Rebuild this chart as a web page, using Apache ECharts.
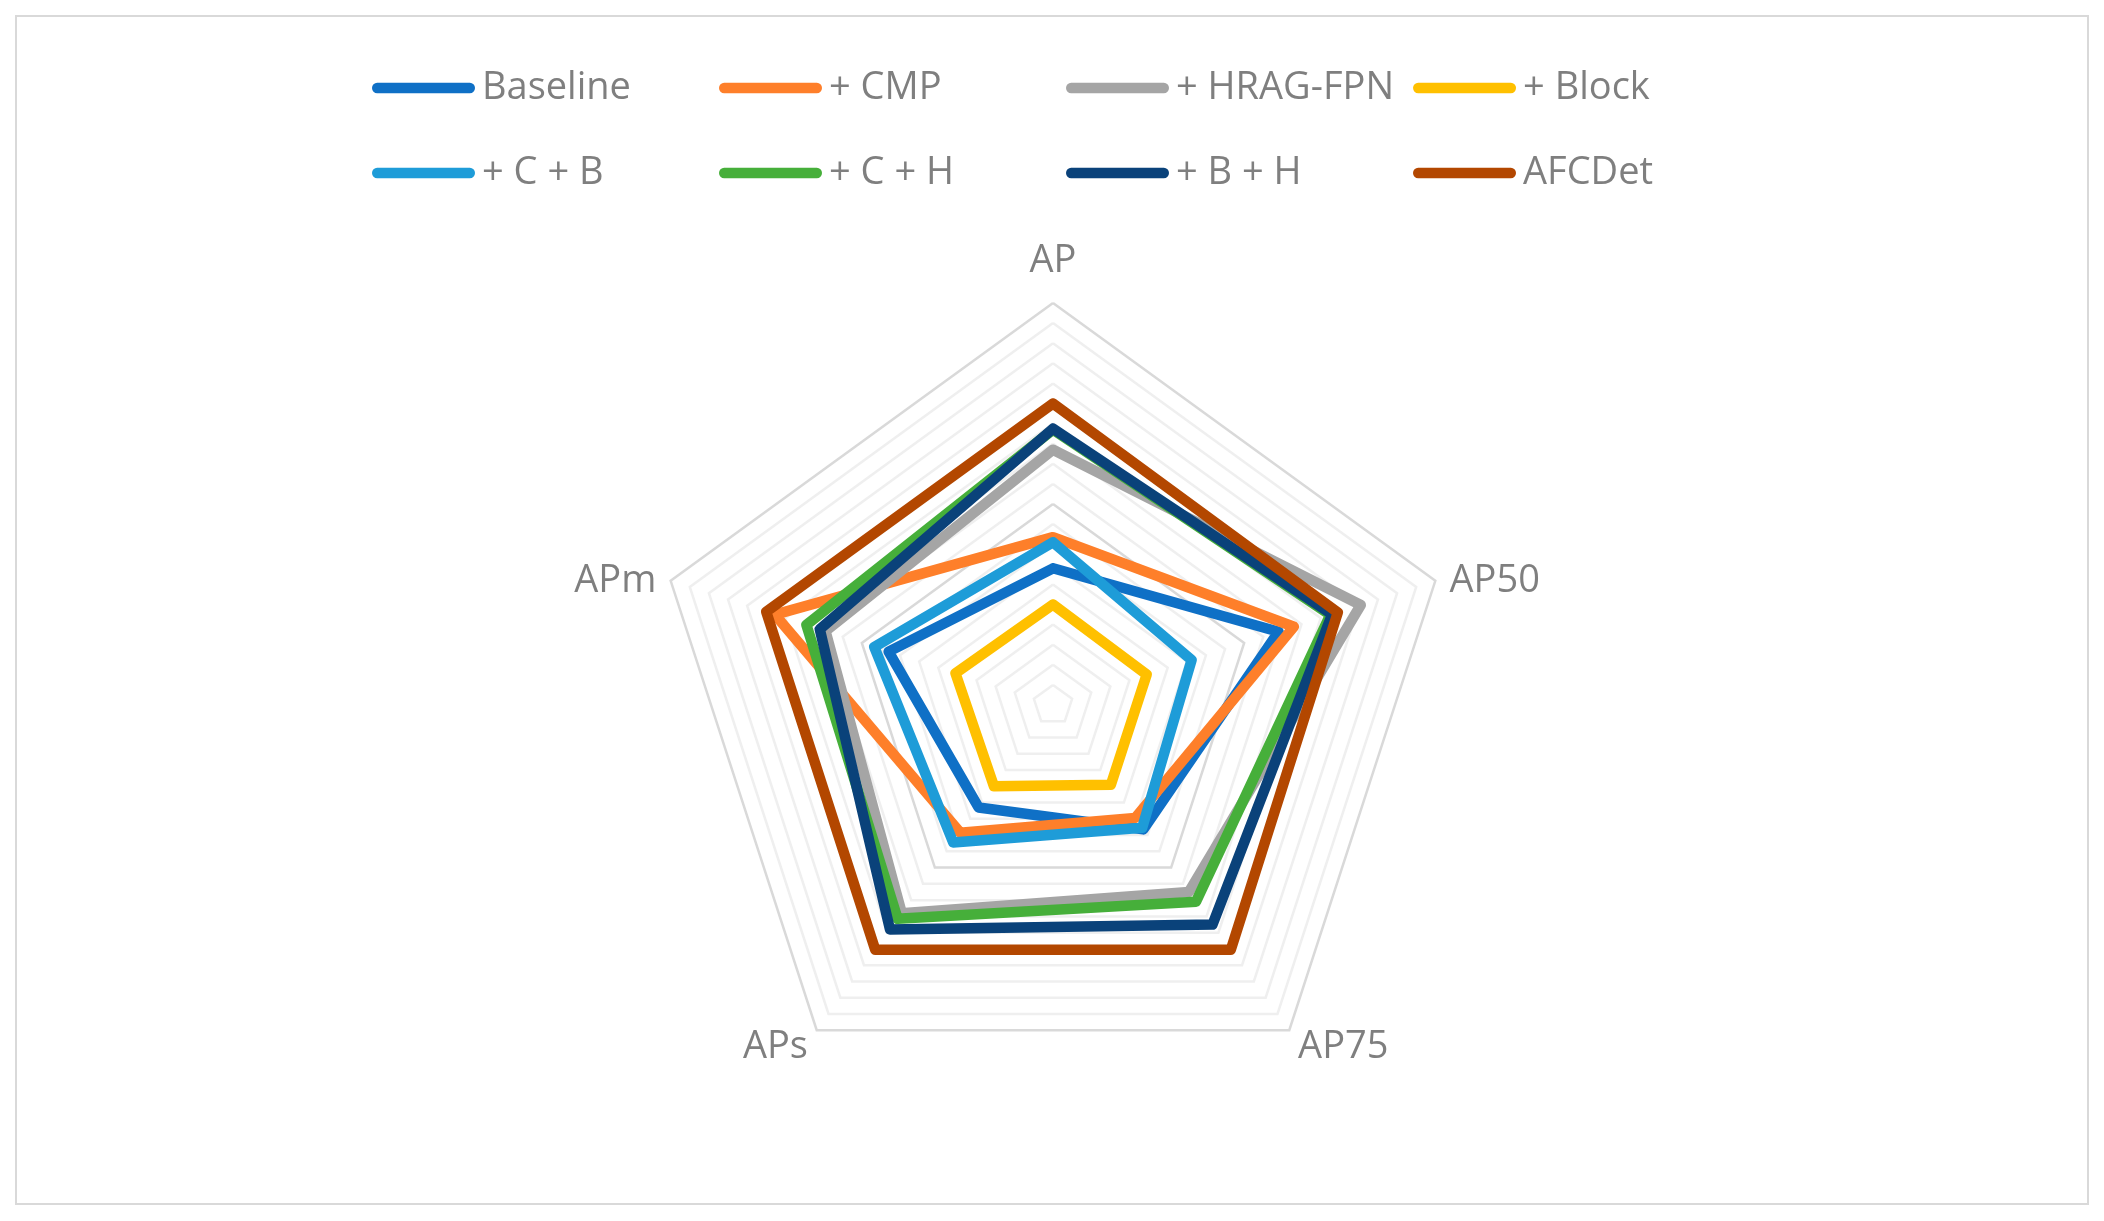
<!DOCTYPE html>
<html>
<head>
<meta charset="utf-8">
<script src="https://cdn.jsdelivr.net/npm/echarts@6/dist/echarts.min.js"></script>
<style>
html,body{margin:0;padding:0;background:#fff;}
#chart{width:2104px;height:1221px;}
</style>
</head>
<body>
<div id="chart"></div>
<script>
// Metrics (clockwise from top, as in the reference)
var metrics = ['AP', 'AP50', 'AP75', 'APs', 'APm'];
// Series names
var seriesNames = ['Baseline', '+ CMP', '+ HRAG-FPN', '+ Block', '+ C + B', '+ C + H', '+ B + H', 'AFCDet'];
// Values per series, in metric order AP, AP50, AP75, APs, APm (axis 0..20)
var baseline = [6.8, 11.8, 7.65, 6.3, 8.6];
var cmp      = [8.35, 12.6, 6.95, 7.85, 14.55];
var hragFpn  = [12.7, 16.1, 11.5, 12.8, 11.9];
var block    = [5.0, 4.9, 4.9, 5.0, 5.1];
var cb       = [8.1, 7.25, 7.55, 8.45, 9.35];
var ch       = [13.7, 14.5, 12.1, 13.15, 12.9];
var bh       = [13.75, 14.6, 13.5, 13.8, 12.2];
var afcdet   = [15.0, 14.9, 15.05, 15.05, 15.0];
var axisMin = 0, axisMax = 20, axisSplits = 20;

var allValues = [baseline, cmp, hragFpn, block, cb, ch, bh, afcdet];
var colors = ['#0F70C6', '#FE7F2A', '#A5A5A5', '#FFC000', '#1E9CD8', '#46AF3A', '#0A427A', '#B34700'];

// ECharts places indicators counter-clockwise; reorder so the picture runs clockwise
var order = [0, 4, 3, 2, 1];
var indicators = order.map(function (i) { return { name: metrics[i], min: axisMin, max: axisMax }; });

var ringColors = ['#d9d9d9'];
for (var k = 1; k < 10; k++) ringColors.push('#efefef');

var legendIcon = 'path://M5,0 H95 A5,5 0 0 1 95,10 H5 A5,5 0 0 1 5,0 Z';
function makeLegend(names, top) {
  return {
    data: names,
    left: 367,
    top: top,
    padding: 5,
    orient: 'horizontal',
    icon: legendIcon,
    itemWidth: 103,
    itemHeight: 11,
    itemGap: 19,
    selectedMode: false,
    textStyle: { fontFamily: 'Open Sans', fontSize: 38, color: '#7f7f7f', width: 218, lineHeight: 44, padding: [0, 0, 0, 2] }
  };
}

var series = seriesNames.map(function (name, s) {
  return {
    type: 'radar',
    name: name,
    symbol: 'none',
    silent: true,
    lineStyle: { width: 10.5, color: colors[s], cap: 'round', join: 'round', opacity: 1 },
    itemStyle: { color: colors[s] },
    data: [{ name: name, value: order.map(function (i) { return allValues[s][i]; }) }]
  };
});

var chart = echarts.init(document.getElementById('chart'), null, { renderer: 'canvas' });
chart.setOption({
  backgroundColor: '#ffffff',
  animation: false,
  graphic: [{
    type: 'rect',
    shape: { x: 16, y: 16, width: 2072, height: 1188 },
    style: { fill: 'none', stroke: '#d9d9d9', lineWidth: 2 },
    silent: true
  }],
  legend: [makeLegend(seriesNames.slice(0, 4), 61), makeLegend(seriesNames.slice(4), 146)],
  radar: {
    center: [1053, 705],
    radius: 402,
    startAngle: 90,
    shape: 'polygon',
    splitNumber: axisSplits,
    indicator: indicators,
    nameGap: 15,
    axisName: {
      color: '#7f7f7f',
      fontFamily: 'Open Sans',
      fontSize: 38,
      padding: [10, 0, 0, 0],
      formatter: function (n) { return n === 'AP' ? '{top|' + n + '}' : n; },
      rich: { top: { fontFamily: 'Open Sans', fontSize: 38, color: '#7f7f7f', padding: [0, 0, 8, 0] } }
    },
    axisLine: { show: false },
    axisTick: { show: false },
    axisLabel: { show: false },
    splitArea: { show: false },
    splitLine: { lineStyle: { color: ringColors, width: 2.5 } }
  },
  series: series
});
</script>
</body>
</html>
